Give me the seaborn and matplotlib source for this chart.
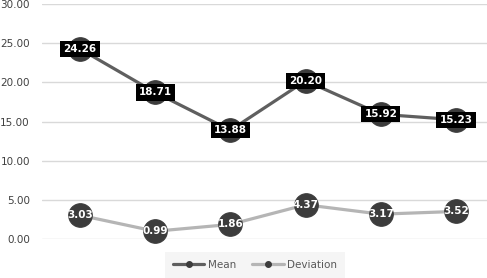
import matplotlib
matplotlib.use("Agg")
import matplotlib.pyplot as plt
from matplotlib.lines import Line2D
import seaborn as sns
import pandas as pd

# data
points = [1, 2, 3, 4, 5, 6]
mean_vals = [24.26, 18.71, 13.88, 20.20, 15.92, 15.23]
dev_vals = [3.03, 0.99, 1.86, 4.37, 3.17, 3.52]
series_names = ["Mean", "Deviation"]
yticks = [0, 5, 10, 15, 20, 25, 30]

df = pd.DataFrame({
    "point": points * 2,
    "value": mean_vals + dev_vals,
    "series": [series_names[0]] * 6 + [series_names[1]] * 6,
})

sns.set_style("white")
plt.rcParams['font.family'] = ['DejaVu Sans']

line_colors = {"Mean": "#5f5f5f", "Deviation": "#b5b5b5"}
marker_color = "#3c3c3c"

fig = plt.figure(figsize=(4.87, 2.78), dpi=100)
W, H = 487, 278
ax = fig.add_axes([42.4 / W, 39 / H, 451.2 / W, 235 / H])

for name in series_names:
    sub = df[df["series"] == name]
    sns.lineplot(data=sub, x="point", y="value", ax=ax, color=line_colors[name],
                 linewidth=2.3, marker="o", markersize=17,
                 markerfacecolor=marker_color, markeredgecolor=marker_color,
                 legend=False, clip_on=False, zorder=3)

# labels
for x, v in zip(points, mean_vals):
    ax.text(x, v, f"{v:.2f}", ha="center", va="center", color="white",
            fontsize=7.5, fontweight="bold", zorder=5,
            bbox=dict(boxstyle="square,pad=0.3", fc="black", ec="none"))
for x, v in zip(points, dev_vals):
    ax.text(x, v, f"{v:.2f}", ha="center", va="center", color="white",
            fontsize=7.5, fontweight="bold", zorder=5)

ax.set_xlim(0.5, 6.5)
ax.set_ylim(0, 30)
ax.set_yticks(yticks)
ax.set_yticklabels([f"{t:.2f}" for t in yticks], fontsize=7.5, color="#404040")
ax.set_xticks([])
ax.set_xlabel("")
ax.set_ylabel("")
ax.tick_params(axis="y", length=0, pad=9)
ax.yaxis.grid(True, color="#d9d9d9", linewidth=1)
ax.set_axisbelow(True)
for s in ax.spines.values():
    s.set_visible(False)

handles = [Line2D([0], [0], color=line_colors[n], linewidth=2.3, marker="o",
                  markersize=4, markerfacecolor=marker_color,
                  markeredgecolor=marker_color) for n in series_names]
leg = fig.legend(handles, series_names, loc="center", bbox_to_anchor=(255 / W, 1 - 265 / H),
                 ncol=2, frameon=True, fontsize=7.5, handlelength=3.0,
                 columnspacing=1.6, handletextpad=0.3, borderpad=0.45, borderaxespad=0)
leg.get_frame().set_facecolor("#f3f3f3")
leg.get_frame().set_edgecolor("none")
leg.get_frame().set_boxstyle("square")
for t in leg.get_texts():
    t.set_color("#595959")

fig.savefig("out.png", dpi=100)
